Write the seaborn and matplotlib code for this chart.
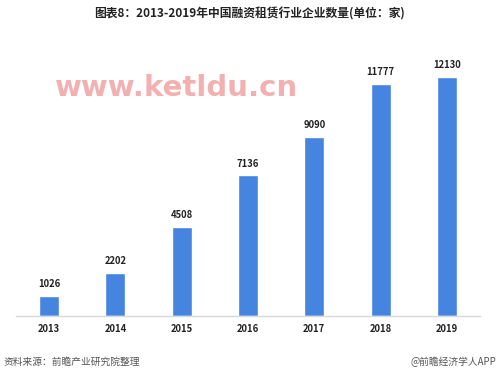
import pandas as pd
import matplotlib.pyplot as plt
import seaborn as sns

# 数据
years = ["2013", "2014", "2015", "2016", "2017", "2018", "2019"]
counts = [1026, 2202, 4508, 7136, 9090, 11777, 12130]

df = pd.DataFrame({"year": years, "count": counts})

sns.set_theme(style="white")
plt.rcParams['font.family'] = ['Noto Sans CJK SC', 'DejaVu Sans']

fig = plt.figure(figsize=(4.99, 3.79), dpi=100)
ax = fig.add_axes([0.032, 0.166, 0.93, 0.728])

sns.barplot(data=df, x="year", y="count", color="#4585e0", width=0.3,
            saturation=1, ax=ax)

# 数据标签
for i, v in enumerate(counts):
    ax.text(i, v + 350, str(v), ha="center", va="bottom",
            fontsize=6.8, fontweight="bold", color="#222222")

ax.set_ylim(0, 14000)
ax.set_xlim(-0.5, 6.5)
ax.set_xlabel("")
ax.set_ylabel("")
ax.set_yticks([])
ax.tick_params(axis="x", length=0, pad=6, labelsize=6.8)
for lbl in ax.get_xticklabels():
    lbl.set_fontweight("bold")
    lbl.set_color("#222222")
for s in ["top", "right", "left"]:
    ax.spines[s].set_visible(False)
ax.spines["bottom"].set_color("#d9d9d9")
ax.spines["bottom"].set_linewidth(1)

# 标题
fig.text(0.5, 0.962, "图表8：2013-2019年中国融资租赁行业企业数量(单位：家)",
         ha="center", va="center", fontsize=8.5, fontweight="bold", color="#222222")

# 水印
fig.text(0.11, 0.768, "www.ketldu.cn", ha="left", va="center",
         fontsize=21, fontweight="bold", color="#f2a3a3", alpha=0.85,
         family=["DejaVu Sans"])

# 底部注释
fig.text(0.008, 0.045, "资料来源：前瞻产业研究院整理", ha="left", va="center",
         fontsize=7, color="#555555")
fig.text(0.995, 0.045, "@前瞻经济学人APP", ha="right", va="center",
         fontsize=7, color="#555555")

plt.savefig("out.png", dpi=100)
